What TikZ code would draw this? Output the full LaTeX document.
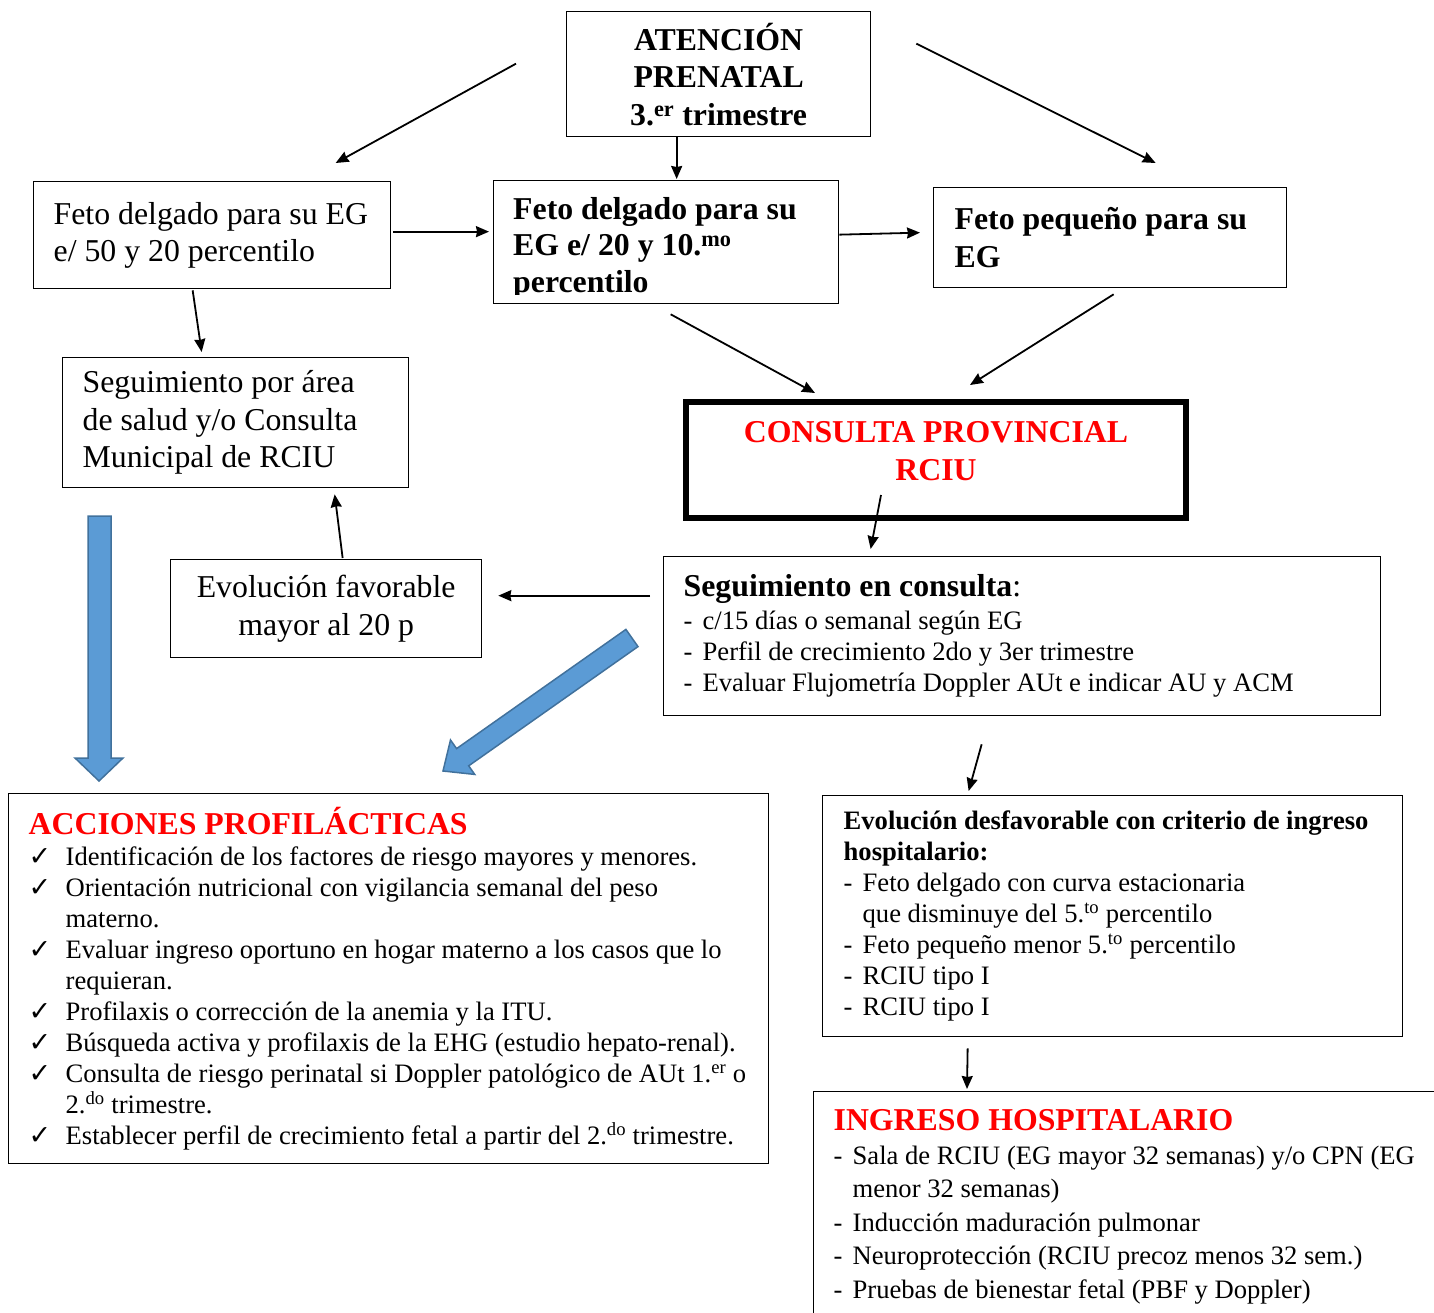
\documentclass[tikz,border=0pt]{standalone}
\usepackage{fontspec}
\setmainfont{Liberation Serif}
\newfontfamily\symfont{DejaVu Sans}
\usetikzlibrary{arrows.meta}

\newcommand\fbig{\fontsize{31.8}{37.5}\selectfont}
\newcommand\fsmall{\fontsize{26.6}{31}\selectfont}
\newcommand\itm[1]{\mbox{\makebox[19pt][l]{-}#1}}
\newcommand\cont[1]{\mbox{\hspace*{19pt}#1}}
\newcommand\chk[1]{\mbox{\makebox[39pt][l]{\hspace{2pt}{\symfont\fontsize{27}{31}\selectfont ✓}}#1}}
\newcommand\chcont[1]{\mbox{\hspace*{39pt}#1}}

\definecolor{arrowblue}{HTML}{5B9BD5}
\definecolor{arrowedge}{HTML}{41719C}

\tikzset{
	box/.style={
		draw,
		line width=1.3pt,
		anchor=north west,
		inner xsep=20pt,
		inner ysep=0pt,
		align=flush left
	},
	arr/.style={
		-{Stealth[length=13pt,width=11pt,inset=1pt]},
		line width=1.8pt
	},
	bigarrow/.style={
		fill=arrowblue,
		draw=arrowedge,
		line width=1.5pt
	},
}

\begin{document}
\begin{tikzpicture}[x=1pt, y=-1pt]

\useasboundingbox (0,0) rectangle (1434,1312);
\clip (0,0) rectangle (1434,1312);

% first rows
\node [box, align=flush center, text width=284pt, inner xsep=10pt, minimum height=125pt, font=\fbig\bfseries] (atencion) at (566,11)
	{ATENCIÓN\\PRENATAL\\3.\textsuperscript{er} trimestre};

\node [box, text width=317pt, minimum height=107pt, font=\fbig] (fetoA) at (33,181)
	{\mbox{Feto delgado para su EG}\\\mbox{e/ 50 y 20 percentilo}};

\node [box, minimum width=345pt, minimum height=123pt] (fetoB) at (493,180) {};
\begin{scope}
	\clip (494,181) rectangle (837,294);
	\node [anchor=north west, inner sep=0pt, align=left, font=\fontsize{31.8}{36.5}\selectfont\bfseries] (fetoBtext) at (513,197)
		{Feto delgado para su\\EG e/ 20 y 10.\textsuperscript{mo}\\percentilo};
\end{scope}

\node [box, text width=311pt, inner xsep=21pt, minimum height=100pt, font=\fbig\bfseries] (fetoC) at (933,187)
	{\mbox{Feto pequeño para su}\\EG};

\node [box, text width=306pt, minimum height=130pt, font=\fbig] (seguiArea) at (62,357)
	{\mbox{Seguimiento por área}\\\mbox{de salud y/o Consulta}\\\mbox{Municipal de RCIU}};

\node [box, line width=6pt, align=center, minimum width=500pt, minimum height=116pt, text depth=18pt, text=red, font=\fbig\bfseries] (consulta) at (683,399)
	{CONSULTA PROVINCIAL\\RCIU};

\node [box, align=flush center, text width=291pt, inner xsep=10pt, minimum height=98pt, font=\fbig] (evolFav) at (170,559)
	{Evolución favorable\\mayor al 20 p};

\node [box, text width=677pt, minimum height=159pt, font=\fsmall] (seguiCons) at (663,556)
	{{\fbig\textbf{Seguimiento en consulta}:}\\[2pt]
	\itm{c/15 días o semanal según EG}\\
	\itm{Perfil de crecimiento 2do y 3er trimestre}\\
	\itm{Evaluar Flujometría Doppler AUt e indicar AU y ACM}};

% lower boxes
\node [box, text width=724pt, inner xsep=18pt, minimum height=370pt, font=\fsmall] (acciones) at (8,793)
	{\hspace*{2pt}{\fbig\bfseries\color{red}ACCIONES PROFILÁCTICAS}\\
	\chk{Identificación de los factores de riesgo mayores y menores.}\\
	\chk{Orientación nutricional con vigilancia semanal del peso}\\
	\chcont{materno.}\\
	\chk{Evaluar ingreso oportuno en hogar materno a los casos que lo}\\
	\chcont{requieran.}\\
	\chk{Profilaxis o corrección de la anemia y la ITU.}\\
	\chk{Búsqueda activa y profilaxis de la EHG (estudio hepato-renal).}\\
	\chk{Consulta de riesgo perinatal si Doppler patológico de AUt 1.\textsuperscript{er} o}\\
	\chcont{2.\textsuperscript{do} trimestre.}\\
	\chk{Establecer perfil de crecimiento fetal a partir del 2.\textsuperscript{do} trimestre.}};

\node [box, text width=538pt, inner xsep=21pt, minimum height=241pt, font=\fsmall] (evolDesf) at (822,795)
	{\mbox{\textbf{Evolución desfavorable con criterio de ingreso}}\\
	\textbf{hospitalario:}\\
	\itm{Feto delgado con curva estacionaria}\\
	\cont{que disminuye del 5.\textsuperscript{to} percentilo}\\
	\itm{Feto pequeño menor 5.\textsuperscript{to} percentilo}\\
	\itm{RCIU tipo I}\\
	\itm{RCIU tipo I}};

\node [box, text width=620pt, inner ysep=18pt, font=\fontsize{26.6}{33.5}\selectfont] (ingreso) at (813,1091)
	{{\fbig\bfseries\color{red}INGRESO HOSPITALARIO}\\
	\itm{Sala de RCIU (EG mayor 32 semanas) y/o CPN (EG}\\
	\cont{menor 32 semanas)}\\
	\itm{Inducción maduración pulmonar}\\
	\itm{Neuroprotección (RCIU precoz menos 32 sem.)}\\
	\itm{Pruebas de bienestar fetal (PBF y Doppler)}};

% connectors
\draw [arr] ([xshift=-50pt,yshift=10.5pt]atencion.west) -- ([xshift=123.5pt,yshift=18pt]fetoA.north);
\draw [arr] ([xshift=-42pt]atencion.south) -- ([xshift=10.5pt,yshift=1pt]fetoB.north);
\draw [arr] ([xshift=45pt,yshift=30.5pt]atencion.east) -- ([xshift=45.5pt,yshift=24pt]fetoC.north);
\draw [arr] ([xshift=2pt,yshift=3.5pt]fetoA.east) -- ([xshift=-4pt,yshift=10.5pt]fetoB.west);
\draw [arr] ([yshift=7.5pt]fetoB.east) -- ([xshift=-13pt,yshift=5pt]fetoC.west);
\draw [arr] ([xshift=-19.5pt,yshift=-1pt]fetoA.south) -- ([xshift=-34pt,yshift=5pt]seguiArea.north);
\draw [arr] ([xshift=4.5pt,yshift=-10pt]fetoB.south) -- ([xshift=-121pt,yshift=6pt]consulta.north);
\draw [arr] ([xshift=3.5pt,yshift=-6pt]fetoC.south) -- ([xshift=34pt,yshift=14pt]consulta.north);
\draw [arr] ([xshift=-55pt,yshift=26pt]consulta.south) -- ([xshift=-151.5pt,yshift=7pt]seguiCons.north);
\draw [arr] ([xshift=-13pt,yshift=40.5pt]seguiCons.west) -- ([xshift=16pt,yshift=13pt]evolFav.east);
\draw [arr] ([xshift=16.5pt,yshift=1pt]evolFav.north) -- ([xshift=99pt,yshift=-6pt]seguiArea.south);
\draw [arr] ([xshift=-40.5pt,yshift=-28pt]seguiCons.south) -- ([xshift=-144pt,yshift=4pt]evolDesf.north);
\draw [arr] ([xshift=-145pt,yshift=-11pt]evolDesf.south) -- ([xshift=154pt,yshift=2pt]ingreso.north west);

% blue arrows
\draw [bigarrow] (88,516) -- (111,516) -- (111,758) -- (123,758) -- (99,781) -- (75,758) -- (88,758) -- cycle;
\draw [bigarrow] (625.9,629.4) -- (638.0,646.6) -- (468.7,765.8) -- (474.7,774.4) -- (443,771) -- (450.5,740.0) -- (456.6,748.6) -- cycle;

\end{tikzpicture}
\end{document}
